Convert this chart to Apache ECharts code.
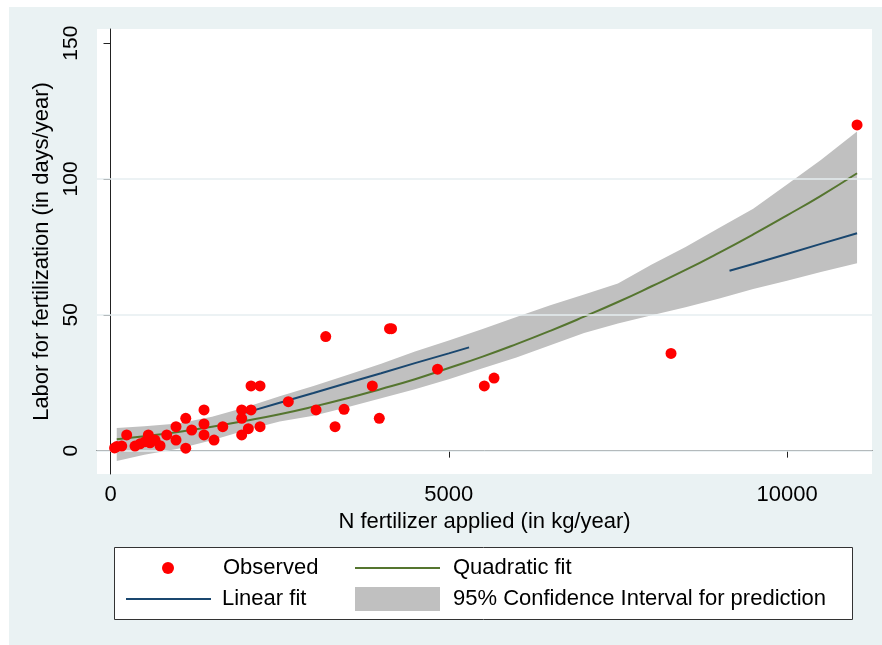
<!DOCTYPE html>
<html>
<head>
<meta charset="utf-8">
<script src="https://cdn.jsdelivr.net/npm/echarts@6/dist/echarts.min.js"></script>
<style>
html,body{margin:0;padding:0;background:#fff;}
#chart{width:882px;height:645px;}
</style>
</head>
<body>
<div id="chart"></div>
<script>
// Observed data
var obsX = [60, 92, 166, 239, 362, 436, 510, 559, 584, 658, 732, 831, 968, 968, 1112, 1112, 1200, 1382, 1382, 1382, 1530, 1659, 1939, 1939, 1939, 2037, 2077, 2077, 2210, 2210, 2628, 3038, 3181, 3319, 3452, 3870, 3973, 4124, 4154, 4834, 5525, 5669, 8285, 11035];
var obsY = [1.0, 1.5, 1.7, 5.8, 1.7, 2.5, 3.3, 5.8, 2.9, 3.9, 1.8, 5.8, 8.8, 3.9, 11.9, 0.9, 7.6, 15.0, 9.8, 5.8, 3.9, 8.8, 15.0, 11.9, 5.8, 8.1, 15.0, 23.8, 23.8, 8.8, 18.0, 15.0, 42.0, 8.8, 15.2, 23.8, 11.9, 44.9, 44.9, 30.0, 23.8, 26.7, 35.8, 119.9];

// Quadratic fit
var quadX = [92, 500, 1000, 1500, 2000, 2500, 3000, 3500, 4000, 4500, 5000, 5500, 6000, 6500, 7000, 7500, 8000, 8500, 9000, 9500, 10000, 10500, 11035];
var quadY = [4.2, 5.3, 6.9, 8.8, 11.0, 13.4, 16.2, 19.3, 22.7, 26.3, 30.4, 34.6, 39.2, 44.1, 49.3, 54.7, 60.5, 66.5, 72.9, 79.6, 86.6, 93.8, 102.1];

// Linear fit (visible segments; null = hidden)
var linX = [2000, 2500, 3000, 3500, 4000, 4500, 5000, 5300, 7000, 9150, 9500, 10000, 10500, 11035];
var linY = [14.0, 17.6, 21.2, 24.9, 28.5, 32.2, 35.8, 38.0, null, 66.2, 68.7, 72.4, 76.1, 80.0];

// 95% confidence interval for prediction
var bandX = [92, 500, 1000, 1500, 2000, 2500, 3000, 3500, 4000, 4500, 5000, 5500, 6000, 6500, 7000, 7500, 8000, 8500, 9000, 9500, 10000, 10500, 11035];
var bandUpper = [8.3, 9.0, 10.0, 12.5, 16.0, 20.0, 23.8, 27.8, 32.0, 36.5, 40.5, 44.8, 49.2, 53.5, 57.5, 61.5, 68.5, 75.0, 82.0, 89.0, 98.0, 107.0, 117.5];
var bandLower = [-3.8, -1.5, 0.7, 3.8, 7.5, 10.7, 12.8, 16.0, 19.3, 22.6, 26.3, 30.3, 34.3, 38.8, 43.3, 46.8, 49.8, 52.8, 56.0, 59.5, 62.5, 65.8, 69.0];

// Axis ticks
var xTicks = [0, 5000, 10000];
var yTicks = [0, 50, 100, 150];
var yGrid = [0, 50, 100];

var chart = echarts.init(document.getElementById('chart'), null, {renderer: 'canvas'});

function zip(a, b) { var r = []; for (var i = 0; i < a.length; i++) r.push([a[i], b[i]]); return r; }

var FONT = 'Liberation Sans, Arial, sans-serif';
var AX = '#222';
var legendText = function (pad) {
  return {fontSize: 22, color: '#000', lineHeight: 24, padding: [0, 0, 0, pad], fontFamily: FONT};
};

var option = {
  backgroundColor: '#eaf2f3',
  animation: false,
  textStyle: {fontFamily: FONT},
  grid: {left: 97, top: 29, right: 10, bottom: 171, show: true, backgroundColor: '#ffffff', borderWidth: 0},
  xAxis: {
    type: 'value', min: -200, max: 11256,
    name: 'N fertilizer applied (in kg/year)', nameLocation: 'middle', nameGap: 35,
    nameTextStyle: {fontSize: 22, color: '#000', fontFamily: FONT},
    axisLine: {show: true, lineStyle: {color: AX, width: 1}},
    axisTick: {show: true, length: 7, customValues: xTicks, lineStyle: {color: AX}},
    axisLabel: {customValues: xTicks, fontSize: 22, color: '#000', margin: 10, fontFamily: FONT,
      formatter: function (v) { return String(v); }},
    splitLine: {show: false}
  },
  yAxis: {
    type: 'value', min: -8.6, max: 155.2,
    name: 'Labor for fertilization (in days/year)', nameLocation: 'middle', nameGap: 43, nameRotate: 90,
    nameTextStyle: {fontSize: 22, color: '#000', fontFamily: FONT},
    axisLine: {show: true, lineStyle: {color: AX, width: 1}},
    axisTick: {show: true, length: 7, customValues: yTicks, lineStyle: {color: AX}},
    axisLabel: {customValues: yTicks, fontSize: 21, color: '#000', rotate: 90, margin: 15, fontFamily: FONT,
      formatter: function (v) { return String(v); }},
    splitLine: {show: false}
  },
  legend: [
    {data: [{name: 'Observed', icon: 'circle'}], left: 162, top: 556, padding: 0, itemWidth: 12, itemHeight: 12, selectedMode: false,
     textStyle: legendText(44)},
    {data: [{name: 'Quadratic fit', icon: 'rect'}], left: 355, top: 556, padding: 0, itemWidth: 85, itemHeight: 2, selectedMode: false,
     textStyle: legendText(8)},
    {data: [{name: 'Linear fit', icon: 'rect'}], left: 126, top: 587, padding: 0, itemWidth: 85, itemHeight: 2, selectedMode: false,
     textStyle: legendText(6)},
    {data: [{name: '95% Confidence Interval for prediction', icon: 'rect'}], left: 355, top: 587, padding: 0, itemWidth: 85, itemHeight: 24, selectedMode: false,
     textStyle: legendText(8)}
  ],
  graphic: [
    {type: 'rect', shape: {x: 0, y: 0, width: 9, height: 645}, style: {fill: '#fff'}, silent: true},
    {type: 'rect', shape: {x: 0, y: 0, width: 882, height: 7}, style: {fill: '#fff'}, silent: true},
    {type: 'rect', shape: {x: 114.5, y: 547.5, width: 738, height: 72}, style: {fill: '#fff', stroke: '#333', lineWidth: 1}, silent: true, z: 0}
  ],
  series: [
    {
      name: 'gridlines', type: 'line', data: [], silent: true, z: 1,
      markLine: {silent: true, symbol: 'none', label: {show: false},
        lineStyle: {color: '#e6eef1', width: 1.5, type: 'solid'},
        data: yGrid.map(function (v) { return {yAxis: v}; })}
    },
    {
      name: '95% Confidence Interval for prediction', type: 'custom', z: 2, silent: true,
      itemStyle: {color: '#c0c0c0'},
      data: [[bandX[0], bandUpper[0]]],
      renderItem: function (params, api) {
        var pts = [];
        for (var i = 0; i < bandX.length; i++) pts.push(api.coord([bandX[i], bandUpper[i]]));
        for (var j = bandX.length - 1; j >= 0; j--) pts.push(api.coord([bandX[j], bandLower[j]]));
        return {type: 'polygon', shape: {points: pts}, style: {fill: '#c0c0c0'}};
      }
    },
    {
      name: 'Linear fit', type: 'line', z: 3, showSymbol: false, symbol: 'none', smooth: false, connectNulls: false,
      lineStyle: {color: '#1a476f', width: 2}, itemStyle: {color: '#1a476f'},
      data: zip(linX, linY)
    },
    {
      name: 'Quadratic fit', type: 'line', z: 4, showSymbol: false, symbol: 'none', smooth: true,
      lineStyle: {color: '#55752f', width: 2}, itemStyle: {color: '#55752f'},
      data: zip(quadX, quadY)
    },
    {
      name: 'Observed', type: 'scatter', z: 5, symbol: 'circle', symbolSize: 11,
      itemStyle: {color: '#ff0000', opacity: 1},
      data: zip(obsX, obsY)
    }
  ]
};
chart.setOption(option);
</script>
</body>
</html>
